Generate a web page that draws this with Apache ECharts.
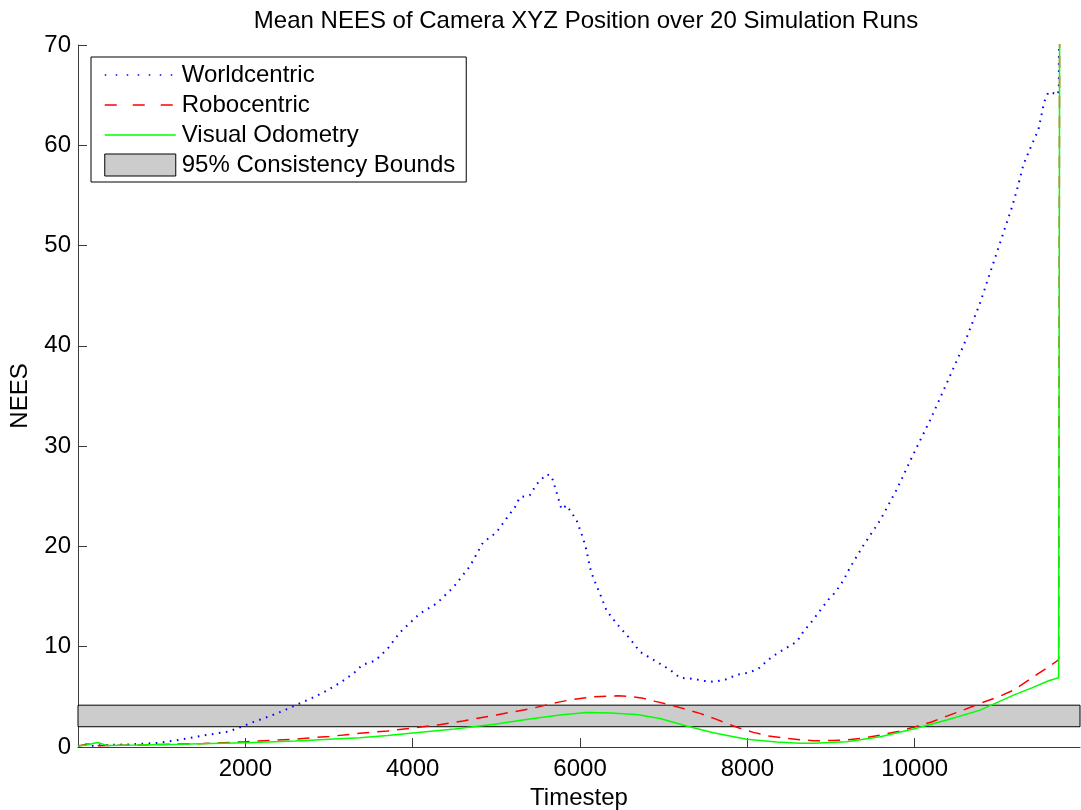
<!DOCTYPE html>
<html>
<head>
<meta charset="utf-8">
<title>Mean NEES of Camera XYZ Position</title>
<script src="https://cdn.jsdelivr.net/npm/echarts@6/dist/echarts.min.js"></script>
<style>
  html, body { margin: 0; padding: 0; background: #fff; overflow: hidden; }
  #chart { width: 1081px; height: 810px; }
</style>
</head>
<body>
<div id="chart"></div>
<script>
// Mean NEES per timestep, averaged over 20 simulation runs
const worldSteps = [0, 80, 160, 300, 600, 950, 1200, 1500, 1800, 1950, 2100, 2300, 2450, 2610, 2800, 2970, 3150, 3300, 3400, 3550, 3700, 3845, 4084, 4284, 4483, 4682, 4841, 5001, 5121, 5221, 5281, 5400, 5480, 5600, 5660, 5719, 5779, 5839, 5959, 6037, 6078, 6118, 6157, 6237, 6317, 6437, 6596, 6716, 6835, 6955, 7075, 7195, 7353, 7473, 7592, 7732, 7872, 8011, 8131, 8250, 8350, 8470, 8590, 8669, 8769, 8868, 8968, 9048, 9147, 9227, 9386, 9586, 9786, 9984, 10184, 10384, 10582, 10782, 10941, 11061, 11161, 11233, 11300, 11380, 11479, 11547, 11598, 11658, 11698, 11722, 11740];
const worldNees  = [0.1, 0.25, 0.12, 0.2, 0.25, 0.4, 0.7, 1.15, 1.55, 2.0, 2.5, 3.1, 3.6, 4.2, 4.9, 5.6, 6.5, 7.4, 8.2, 8.6, 9.8, 11.4, 13.3, 14.3, 15.9, 18.0, 20.4, 21.4, 22.8, 23.9, 24.9, 25.1, 26.2, 27.2, 27.0, 25.4, 23.7, 24.1, 22.6, 20.8, 19.6, 17.9, 16.9, 15.3, 13.6, 12.3, 10.8, 9.5, 8.9, 8.3, 7.7, 6.9, 6.8, 6.6, 6.5, 6.7, 7.2, 7.4, 7.8, 8.7, 9.3, 9.9, 10.5, 11.5, 12.5, 13.6, 14.7, 15.4, 16.6, 17.9, 20.1, 22.6, 25.7, 29.2, 32.6, 36.3, 40.0, 44.3, 48.3, 51.3, 53.8, 55.9, 58.1, 59.7, 61.6, 64.3, 65.3, 65.2, 65.0, 65.4, 120];

const roboSteps = [0, 120, 250, 400, 700, 1000, 1500, 2011, 2569, 3000, 3367, 3700, 4000, 4300, 4600, 5000, 5400, 5759, 5918, 6157, 6456, 6600, 6755, 6900, 7075, 7250, 7433, 7600, 7752, 7900, 8071, 8250, 8470, 8650, 8789, 9000, 9188, 9400, 9587, 9800, 9984, 10200, 10384, 10600, 10782, 11000, 11180, 11400, 11600, 11720, 11740];
const roboNees  = [0.1, 0.3, 0.12, 0.15, 0.2, 0.25, 0.35, 0.53, 0.77, 1.05, 1.36, 1.6, 1.9, 2.2, 2.6, 3.2, 3.8, 4.5, 4.75, 5.0, 5.1, 5.05, 4.85, 4.55, 4.2, 3.8, 3.35, 2.85, 2.36, 1.9, 1.46, 1.1, 0.87, 0.7, 0.63, 0.64, 0.7, 0.9, 1.19, 1.55, 1.96, 2.5, 3.08, 3.75, 4.35, 5.0, 5.67, 6.9, 8.0, 8.7, 120];

const voSteps = [0, 100, 230, 350, 700, 1200, 1600, 2011, 2600, 3000, 3367, 3700, 4000, 4500, 5000, 5400, 5759, 6078, 6357, 6676, 6955, 7274, 7592, 7991, 8350, 8629, 8789, 9188, 9587, 9984, 10384, 10782, 11180, 11400, 11600, 11720, 11740];
const voNees  = [0.1, 0.2, 0.45, 0.15, 0.2, 0.28, 0.35, 0.43, 0.6, 0.78, 0.93, 1.15, 1.4, 1.8, 2.3, 2.8, 3.18, 3.45, 3.4, 3.25, 2.85, 2.09, 1.42, 0.77, 0.5, 0.37, 0.37, 0.53, 1.02, 1.79, 2.69, 3.68, 5.17, 5.9, 6.6, 6.9, 120];

// 95% chi-square consistency bounds for the 20-run mean (3 DOF)
const boundLower = 2.02;
const boundUpper = 4.17;

const seriesNames = ['Worldcentric', 'Robocentric', 'Visual Odometry', '95% Consistency Bounds'];
const xTickInterval = 2000;
const yTicks = [0, 10, 20, 30, 40, 50, 60, 70];

const X_MIN = 0;
const X_MAX = 11975;

const pairs = (xs, ys) => xs.map((x, i) => [x, ys[i]]);
const FONT = "'Liberation Sans', Arial, Helvetica, sans-serif";
const FONT_SIZE = 24;
const AXIS_COLOR = '#3a3a3a';

const chart = echarts.init(document.getElementById('chart'), null, { renderer: 'canvas' });

chart.setOption({
  animation: false,
  backgroundColor: '#ffffff',
  textStyle: { fontFamily: FONT },
  title: {
    text: 'Mean NEES of Camera XYZ Position over 20 Simulation Runs',
    left: 581,
    textAlign: 'center',
    top: 4,
    textStyle: { fontFamily: FONT, fontSize: FONT_SIZE, fontWeight: 'normal', color: '#000' }
  },
  grid: { left: 78, right: 1, top: 45, bottom: 63, containLabel: false, outerBoundsMode: 'none' },
  legend: {
    orient: 'vertical',
    left: 91,
    top: 57,
    padding: [6, 11, 5, 13],
    itemWidth: 71,
    itemHeight: 22,
    itemGap: 6,
    borderColor: '#000',
    borderWidth: 1,
    backgroundColor: '#fff',
    selectedMode: false,
    textStyle: { fontFamily: FONT, fontSize: FONT_SIZE, color: '#000', padding: [0, 0, 0, 1] },
    data: [
      { name: seriesNames[0], itemStyle: { opacity: 0 }, lineStyle: { color: '#0000ff', width: 1.5, type: [1.5, 9.5] } },
      { name: seriesNames[1], itemStyle: { opacity: 0 }, lineStyle: { color: '#ff0000', width: 1.5, type: [12, 16] } },
      { name: seriesNames[2], itemStyle: { opacity: 0 }, lineStyle: { color: '#00ff00', width: 1.5, type: 'solid' } },
      { name: seriesNames[3], icon: 'rect', itemStyle: { color: '#cccccc', borderColor: '#000', borderWidth: 1 } }
    ]
  },
  xAxis: {
    type: 'value',
    min: X_MIN,
    max: X_MAX,
    interval: xTickInterval,
    name: 'Timestep',
    nameLocation: 'middle',
    nameGap: 36,
    nameTextStyle: { fontFamily: FONT, fontSize: FONT_SIZE, color: '#000' },
    axisLine: { show: true, onZero: false, lineStyle: { color: AXIS_COLOR, width: 1 } },
    axisTick: { show: true, inside: true, length: 9, lineStyle: { color: AXIS_COLOR } },
    axisLabel: {
      showMinLabel: false,
      showMaxLabel: false,
      margin: 10,
      fontFamily: FONT,
      fontSize: FONT_SIZE,
      color: '#000',
      formatter: (v) => String(v)
    },
    splitLine: { show: false }
  },
  yAxis: {
    type: 'value',
    min: yTicks[0],
    max: yTicks[yTicks.length - 1],
    interval: yTicks[1] - yTicks[0],
    name: 'NEES',
    nameLocation: 'middle',
    nameGap: 46,
    nameRotate: 90,
    nameTextStyle: { fontFamily: FONT, fontSize: FONT_SIZE, color: '#000' },
    axisLine: { show: true, lineStyle: { color: AXIS_COLOR, width: 1 } },
    axisTick: { show: true, inside: true, length: 9, lineStyle: { color: AXIS_COLOR } },
    axisLabel: { margin: 7, fontFamily: FONT, fontSize: FONT_SIZE, color: '#000', formatter: (v) => String(v) },
    splitLine: { show: false }
  },
  series: [
    {
      name: seriesNames[3],
      type: 'line',
      data: [],
      z: 1,
      markArea: {
        silent: true,
        itemStyle: { color: '#cccccc', borderColor: '#000', borderWidth: 1 },
        data: [[{ xAxis: X_MIN, yAxis: boundLower }, { xAxis: X_MAX, yAxis: boundUpper }]]
      }
    },
    {
      name: seriesNames[0],
      type: 'line',
      z: 3,
      data: pairs(worldSteps, worldNees),
      showSymbol: false,
      symbol: 'none',
      lineStyle: { color: '#0000ff', width: 2, type: [1.6, 5.5], cap: 'butt' },
      itemStyle: { color: '#0000ff' }
    },
    {
      name: seriesNames[1],
      type: 'line',
      z: 4,
      data: pairs(roboSteps, roboNees),
      showSymbol: false,
      symbol: 'none',
      lineStyle: { color: '#ff0000', width: 1.5, type: [12, 8] },
      itemStyle: { color: '#ff0000' }
    },
    {
      name: seriesNames[2],
      type: 'line',
      z: 5,
      data: pairs(voSteps, voNees),
      showSymbol: false,
      symbol: 'none',
      lineStyle: { color: '#00ff00', width: 1.5, type: 'solid' },
      itemStyle: { color: '#00ff00' }
    }
  ]
});
</script>
</body>
</html>
